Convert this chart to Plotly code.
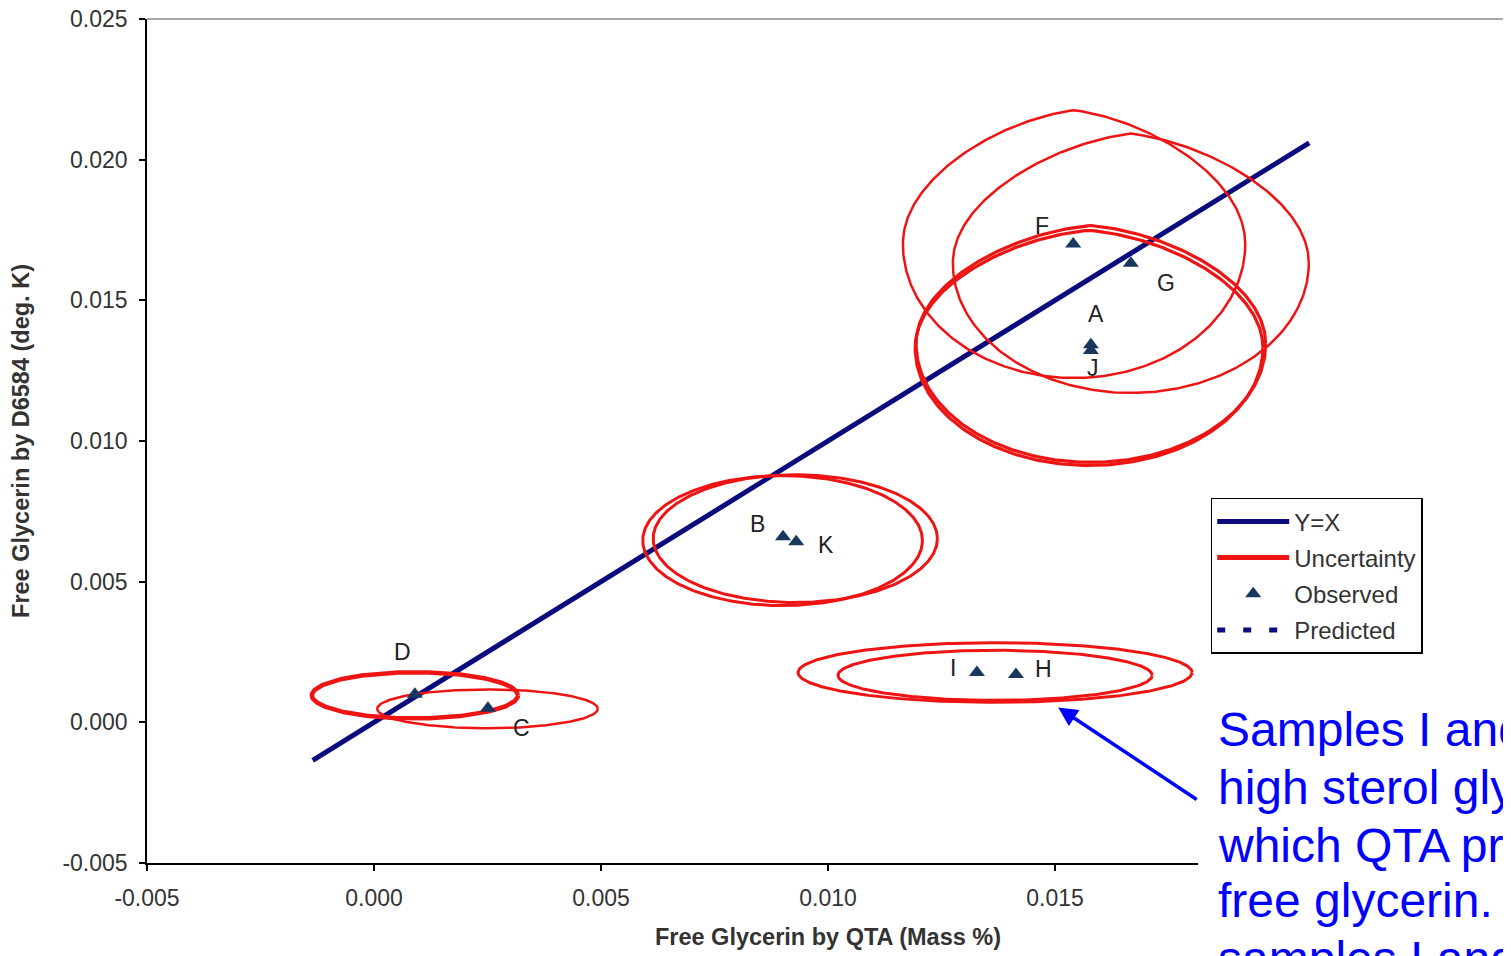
import numpy as np
import plotly.graph_objects as go

# ---------------- data ----------------
sample_names = ["F", "G", "A", "J", "B", "K", "I", "H", "D", "C"]
observed_x = [0.01540, 0.01667, 0.01579, 0.01579, 0.00901, 0.00930, 0.01328, 0.01414, 0.00090, 0.00251]
observed_y = [0.01700, 0.01632, 0.01342, 0.01322, 0.00660, 0.00642, 0.00177, 0.00170, 0.00100, 0.00050]

# uncertainty regions (centre, half-width, half-height) per sample
unc_cx = [0.01542, 0.01667, 0.01579, 0.01575, 0.00900, 0.00928, 0.01368, 0.01368, 0.00090, 0.00250]
unc_cy = [0.01700, 0.01632, 0.01345, 0.01331, 0.00646, 0.00653, 0.00167, 0.00177, 0.00096, 0.00048]
unc_rx = [0.00377, 0.00392, 0.00385, 0.00383, 0.00308, 0.00313, 0.00346, 0.00434, 0.00227, 0.00243]
unc_ry = [0.00476, 0.00461, 0.00421, 0.00418, 0.00231, 0.00227, 0.00089, 0.00106, 0.00082, 0.00069]

yx_line = [-0.00135, 0.0206]

# x ticks beyond 0.015 are hidden behind the note box in the original
x_tick_vals = [-0.005, 0.000, 0.005, 0.010, 0.015]
x_tick_text = ["-0.005", "0.000", "0.005", "0.010", "0.015"]
y_tick_vals = [-0.005, 0.000, 0.005, 0.010, 0.015, 0.020, 0.025]
y_tick_text = ["-0.005", "0.000", "0.005", "0.010", "0.015", "0.020", "0.025"]

note_lines = ["Samples I and H have", "high sterol glycosides, for",
              "which QTA predicts more", "free glycerin.  For",
              "samples I and H the"]

# ---------------- styles ----------------
FONT = "Liberation Sans, Arial, sans-serif"
RED = "#EE1414"
NAVY = "#0B0B7E"
TRI = "#17375E"
TXT = "#333333"

unc_width = [2.5, 2.5, 3.2, 3.2, 3, 3, 3, 3, 4.5, 2.5]
unc_peak = [0.18, 0.18, 0.14, 0.14, 0.0, 0.0, 0.0, 0.0, 0.0, 0.0]
label_shift = {"F": (-31, 18), "G": (35, -20), "A": (5, 31), "J": (2, -18),
               "B": (-26, 13), "K": (30, -3), "I": (-24, 5), "H": (28, 6),
               "D": (-12, 42), "C": (34, -20)}


def contour(cx, cy, rx, ry, k):
    t = np.linspace(0, 2 * np.pi, 361)
    u, v = np.cos(t), np.sin(t)
    y = np.where(v > 0, v * (1 - k * np.abs(u)), v)
    return cx + rx * u, cy + ry * y


fig = go.Figure()

# Y=X
fig.add_trace(go.Scatter(x=yx_line, y=yx_line, mode="lines", name="Y=X",
                         line=dict(color=NAVY, width=5), legendgroup="a",
                         hoverinfo="skip"))

# uncertainty contours
for i in range(len(unc_cx)):
    ex, ey = contour(unc_cx[i], unc_cy[i], unc_rx[i], unc_ry[i], unc_peak[i])
    fig.add_trace(go.Scatter(x=ex, y=ey, mode="lines", showlegend=False,
                             line=dict(color=RED, width=unc_width[i]),
                             legendgroup="b", hoverinfo="skip"))
fig.add_trace(go.Scatter(x=[None], y=[None], mode="lines", name="Uncertainty",
                         line=dict(color=RED, width=5), legendgroup="b"))

# observed
fig.add_trace(go.Scatter(x=observed_x, y=observed_y, mode="markers", name="Observed",
                         marker=dict(symbol="triangle-up", size=14, color=TRI),
                         legendgroup="c", text=sample_names))

# predicted (legend only)
fig.add_trace(go.Scatter(x=[None], y=[None], mode="lines", name="Predicted",
                         line=dict(color=NAVY, width=5, dash="8px,18px"),
                         legendgroup="d"))

# point labels
for n, x, y in zip(sample_names, observed_x, observed_y):
    dx, dy = label_shift[n]
    fig.add_annotation(x=x, y=y, text=n, showarrow=False, xshift=dx, yshift=dy,
                       font=dict(family=FONT, size=23, color="#222222"))

# white note box covering lower right
fig.add_shape(type="rect", xref="paper", yref="paper", x0=0.7717, x1=1.05,
              y0=-0.25, y1=0.205, fillcolor="white", line=dict(width=0),
              layer="above")

# top / right frame
fig.add_shape(type="line", xref="paper", yref="paper", x0=0, x1=1, y0=1, y1=1,
              line=dict(color="#888888", width=1.5), layer="below")
fig.add_shape(type="line", xref="paper", yref="paper", x0=1, x1=1, y0=0, y1=1,
              line=dict(color="#888888", width=1.5), layer="below")

# note text
note_y = [0.1576, 0.0889, 0.0213, -0.045, -0.1126]
for line, yy in zip(note_lines, note_y):
    fig.add_annotation(xref="paper", yref="paper", x=0.785, y=yy, text=line,
                       showarrow=False, xanchor="left", yanchor="middle",
                       font=dict(family=FONT, size=48, color="#0000FF"))

# arrow
fig.add_annotation(x=0.01507, y=0.00053, text="", showarrow=True,
                   ax=140, ay=93, arrowhead=2, arrowsize=1.1, arrowwidth=3.5,
                   arrowcolor="#0000FF")

axis_common = dict(range=[-0.005, 0.025], automargin=False,
                   showgrid=False, zeroline=False, showline=True,
                   linecolor="black", linewidth=1.5, ticks="outside",
                   ticklen=6, tickwidth=1.5, tickcolor="black",
                   ticklabeloverflow="allow",
                   tickfont=dict(family=FONT, size=23, color=TXT))

fig.update_layout(
    width=1503, height=948,
    margin=dict(l=139, r=2, t=11, b=93, pad=0, autoexpand=False),
    paper_bgcolor="white", plot_bgcolor="white",
    font=dict(family=FONT, color=TXT),
    xaxis=dict(**axis_common, tickvals=x_tick_vals, ticktext=x_tick_text,
               ticklabelstandoff=8,
               title=dict(text="<b>Free Glycerin by QTA (Mass %)</b>",
                          font=dict(family=FONT, size=23.5, color=TXT), standoff=18)),
    yaxis=dict(**axis_common, tickvals=y_tick_vals, ticktext=y_tick_text,
               ticklabelstandoff=7,
               title=dict(text="<b>Free Glycerin by D6584 (deg. K)</b>",
                          font=dict(family=FONT, size=23.5, color=TXT), standoff=26)),
    legend=dict(x=0.781, y=0.4327, xanchor="left", yanchor="top",
                bgcolor="white", bordercolor="black", borderwidth=1.5,
                font=dict(family=FONT, size=24, color=TXT),
                itemwidth=72, tracegroupgap=2, traceorder="grouped"),
    showlegend=True,
)

fig.write_html("out.html")
